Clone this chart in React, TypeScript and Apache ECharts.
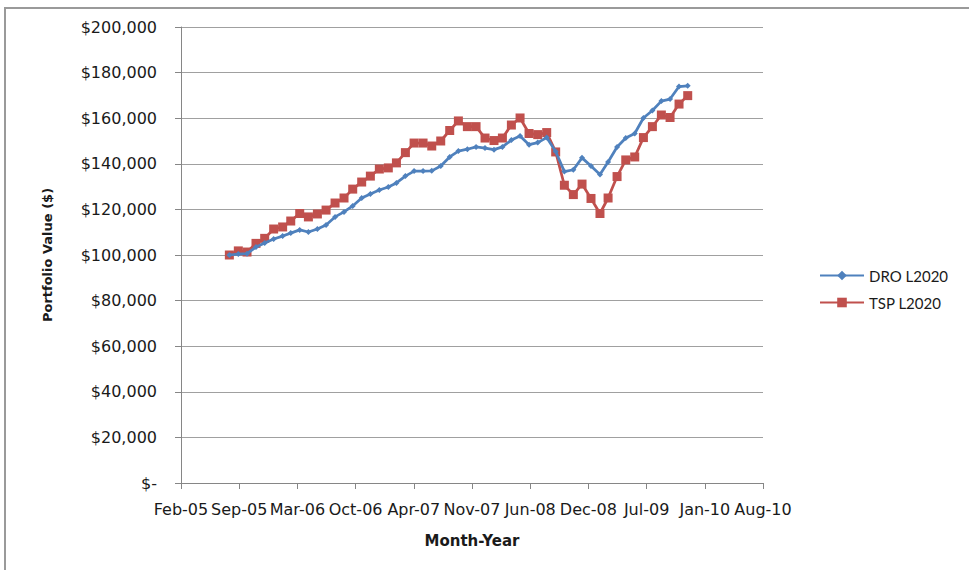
import React, { useEffect, useRef } from "react";
import * as echarts from "echarts";

// Monthly observation dates (first of month)
const months: string[] = [
  "2005-08", "2005-09", "2005-10", "2005-11", "2005-12",
  "2006-01", "2006-02", "2006-03", "2006-04", "2006-05", "2006-06",
  "2006-07", "2006-08", "2006-09", "2006-10", "2006-11", "2006-12",
  "2007-01", "2007-02", "2007-03", "2007-04", "2007-05", "2007-06",
  "2007-07", "2007-08", "2007-09", "2007-10", "2007-11", "2007-12",
  "2008-01", "2008-02", "2008-03", "2008-04", "2008-05", "2008-06",
  "2008-07", "2008-08", "2008-09", "2008-10", "2008-11", "2008-12",
  "2009-01", "2009-02", "2009-03", "2009-04", "2009-05", "2009-06",
  "2009-07", "2009-08", "2009-09", "2009-10", "2009-11", "2009-12",
];

const droL2020: number[] = [
  100000, 100400, 100600, 103500, 105300, 107000, 108300, 109600, 111000, 110100,
  111400, 113200, 116700, 118900, 121500, 125000, 126800, 128500, 129800, 131600,
  134600, 136800, 136800, 136900, 139000, 143000, 145600, 146400, 147400, 146900,
  146200, 147400, 150400, 152200, 148400, 149300, 151500, 145400, 136600, 137400,
  142600, 139000, 135300, 140800, 147400, 151300, 153300, 160100, 163400, 167500,
  168400, 173900, 174200,
];

const tspL2020: number[] = [
  100000, 101800, 101300, 105100, 107300, 111400, 112300, 114900, 118200, 116700,
  118000, 119700, 122800, 125000, 128900, 132000, 134600, 137700, 138200, 140400,
  144900, 149100, 149100, 147800, 150000, 154600, 158800, 156300, 156300, 151300,
  150200, 151300, 157000, 160100, 153300, 152800, 153700, 145200, 130600, 126500,
  131100, 124800, 118200, 125000, 134400, 141700, 143000, 151500, 156300, 161400,
  160300, 166200, 169900,
];

const seriesNames: string[] = ["DRO L2020", "TSP L2020"];
const monthAbbr: string[] = ["Jan", "Feb", "Mar", "Apr", "May", "Jun", "Jul", "Aug", "Sep", "Oct", "Nov", "Dec"];

const DAY = 86400000;
const ORIGIN = Date.UTC(2005, 1, 15); // axis start (day 0)
const AXIS_SPAN_DAYS = 2010;
const AXIS_STEP_DAYS = 201;

const toDay = (ym: string): number => {
  const [y, m] = ym.split("-").map(Number);
  return (Date.UTC(y, m - 1, 1) - ORIGIN) / DAY;
};

const fmtDay = (v: number): string => {
  const d = new Date(ORIGIN + Math.round(v) * DAY);
  const yy = String(d.getUTCFullYear() % 100).padStart(2, "0");
  return `${monthAbbr[d.getUTCMonth()]}-${yy}`;
};

const fmtMoney = (v: number): string =>
  v === 0 ? "$-" : "$" + v.toLocaleString("en-US");

export default function App() {
  const ref = useRef<HTMLDivElement>(null);

  useEffect(() => {
    if (!ref.current) return;
    const chart = echarts.init(ref.current, undefined, { renderer: "svg" });
    const axisFont = "DejaVu Sans";
    chart.setOption({
      animation: false,
      backgroundColor: "#ffffff",
      graphic: [
        {
          type: "rect",
          shape: { x: 5, y: 8, width: 1000, height: 600 },
          style: { fill: "none", stroke: "#9a9a9a", lineWidth: 2 },
          silent: true,
          z: 0,
        },
      ],
      grid: { left: 181, right: 206, top: 27, bottom: 87, containLabel: false },
      legend: {
        orient: "vertical",
        left: 814,
        top: 263,
        itemWidth: 44,
        itemHeight: 12,
        itemGap: 12,
        data: seriesNames,
        textStyle: { fontFamily: "Lato", fontSize: 15, color: "#1a1a1a" },
      },
      xAxis: {
        type: "value",
        min: 0,
        max: AXIS_SPAN_DAYS,
        interval: AXIS_STEP_DAYS,
        name: "Month-Year",
        nameLocation: "middle",
        nameGap: 50,
        nameTextStyle: { fontFamily: axisFont, fontWeight: "bold", fontSize: 15, color: "#1a1a1a" },
        axisLine: { show: true, lineStyle: { color: "#868686", width: 1 } },
        axisTick: { show: true, length: 6, lineStyle: { color: "#868686" } },
        axisLabel: {
          margin: 18,
          fontFamily: axisFont,
          fontSize: 16,
          color: "#1a1a1a",
          formatter: (v: number) => fmtDay(v),
        },
        splitLine: { show: false },
      },
      yAxis: {
        type: "value",
        min: 0,
        max: 200000,
        interval: 20000,
        name: "Portfolio Value ($)",
        nameLocation: "middle",
        nameGap: 127,
        nameRotate: 90,
        nameTextStyle: { fontFamily: axisFont, fontWeight: "bold", fontSize: 13, color: "#1a1a1a" },
        axisLine: { show: true, lineStyle: { color: "#868686", width: 1 } },
        axisTick: { show: true, length: 6, lineStyle: { color: "#868686" } },
        axisLabel: {
          margin: 24,
          fontFamily: axisFont,
          fontSize: 16,
          color: "#1a1a1a",
          formatter: (v: number) => fmtMoney(v),
        },
        splitLine: { show: true, lineStyle: { color: "#a0a0a0", width: 1 } },
      },
      series: [
        {
          name: seriesNames[0],
          type: "line",
          data: months.map((m, i) => [toDay(m), droL2020[i]]),
          symbol: "diamond",
          symbolSize: 6,
          showAllSymbol: true,
          lineStyle: { color: "#4F81BD", width: 2.75 },
          itemStyle: { color: "#4F81BD" },
          z: 3,
        },
        {
          name: seriesNames[1],
          type: "line",
          data: months.map((m, i) => [toDay(m), tspL2020[i]]),
          symbol: "rect",
          symbolSize: 9,
          showAllSymbol: true,
          lineStyle: { color: "#C0504D", width: 2.75 },
          itemStyle: { color: "#C0504D" },
          z: 2,
        },
      ],
    });
    return () => chart.dispose();
  }, []);

  return (
    <div
      ref={ref}
      style={{ position: "fixed", left: 0, top: 0, width: 969, height: 570 }}
    />
  );
}
